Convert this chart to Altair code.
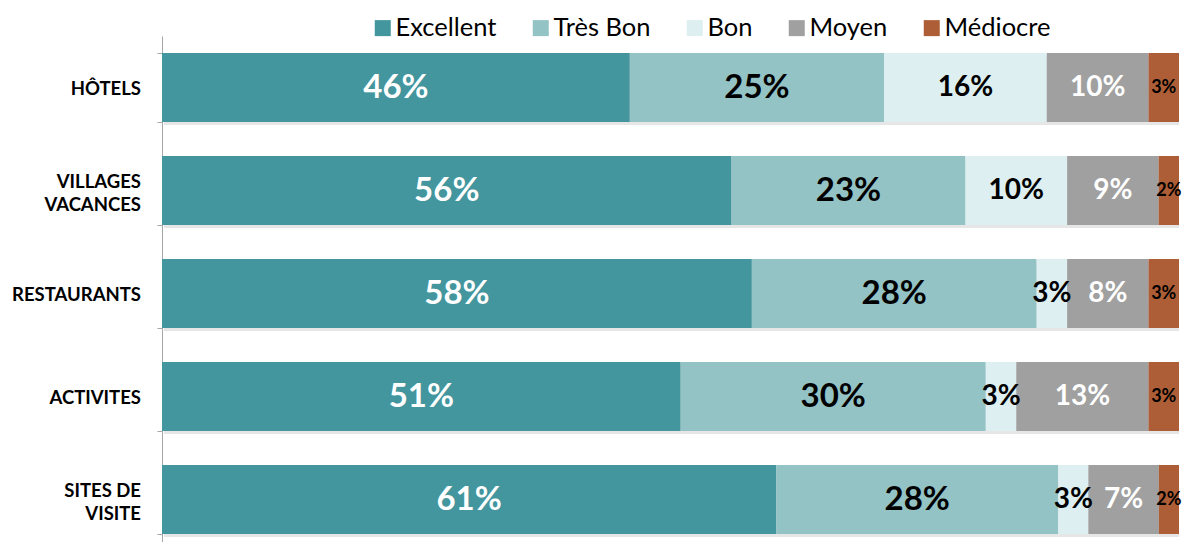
import altair as alt
import pandas as pd

categories = ["HÔTELS", "VILLAGES\nVACANCES", "RESTAURANTS", "ACTIVITES", "SITES DE\nVISITE"]
ratings = ["Excellent", "Très Bon", "Bon", "Moyen", "Médiocre"]
excellent = [46, 56, 58, 51, 61]
tres_bon = [25, 23, 28, 30, 28]
bon = [16, 10, 3, 3, 3]
moyen = [10, 9, 8, 13, 7]
mediocre = [3, 2, 3, 3, 2]
colors = ["#43959E", "#93C3C5", "#DDEFF0", "#A0A0A0", "#AE5E36"]

series = [excellent, tres_bon, bon, moyen, mediocre]
rows = []
for ci, cat in enumerate(categories):
    for ri, r in enumerate(ratings):
        rows.append({"cat": cat, "rating": r, "order": ri, "value": series[ri][ci]})
df = pd.DataFrame(rows)

FONT = "Lato"
LINE_H = 23

yscale = alt.Scale(domain=categories, range=[0, 515], paddingInner=0.33, paddingOuter=0.165)
xscale = alt.Scale(domain=[0, 1], nice=False)

base = (
    alt.Chart(df)
    .transform_stack(stack="value", groupby=["cat"],
                     sort=[{"field": "order", "order": "ascending"}],
                     as_=["v0", "v1"], offset="normalize")
    .transform_calculate(mid="(datum.v0 + datum.v1) / 2", label="datum.value + '%'")
)

shadow = (
    base.transform_filter(alt.datum.rating == "Excellent")
    .transform_calculate(s0="0", s1="1")
    .mark_bar(color="#9a9a9a", opacity=0.25, yOffset=3, xOffset=2)
    .encode(
        x=alt.X("s0:Q", scale=xscale, axis=None),
        x2="s1:Q",
        y=alt.Y("cat:N", scale=yscale, sort=categories),
    )
)

bars = base.mark_bar().encode(
    x=alt.X("v0:Q", axis=None, scale=xscale),
    x2="v1:Q",
    y=alt.Y(
        "cat:N",
        sort=categories,
        scale=yscale,
        title=None,
        axis=alt.Axis(
            labels=False,
            tickBand="extent",
            tickSize=5,
            tickColor="#A6A6A6",
            domainColor="#A6A6A6",
            ticks=True,
            grid=False,
        ),
    ),
    color=alt.Color(
        "rating:N",
        scale=alt.Scale(domain=ratings, range=colors),
        sort=ratings,
        legend=alt.Legend(
            title=None,
            orient="none",
            direction="horizontal",
            legendX=208,
            legendY=-21,
            symbolType="square",
            symbolSize=256,
            symbolStrokeWidth=0,
            symbolOpacity=1,
            labelFont=FONT,
            labelFontSize=25.5,
            labelColor="#000000",
            labelOffset=0,
            columnPadding=31,
            labelLimit=300,
        ),
    ),
)

def cat_labels(multi):
    test = "indexof(datum.cat, '\\n') >= 0" if multi else "indexof(datum.cat, '\\n') < 0"
    return (
        base.transform_filter(alt.datum.rating == "Excellent")
        .transform_filter(test)
        .transform_calculate(zero="0")
        .mark_text(font=FONT, fontWeight="bold", fontSize=18.5, color="#000000",
                   align="right", baseline="middle", dx=-21,
                   dy=(-LINE_H / 2 + 3) if multi else 1, lineBreak="\n", lineHeight=LINE_H)
        .encode(
            x=alt.X("zero:Q", scale=xscale),
            y=alt.Y("cat:N", sort=categories, scale=yscale),
            text="cat:N",
        )
    )

def text_layer(names, size, color):
    return (
        base.transform_filter(alt.FieldOneOfPredicate(field="rating", oneOf=names))
        .mark_text(font=FONT, fontWeight="bold", fontSize=size, color=color,
                   align="center", baseline="middle")
        .encode(
            x=alt.X("mid:Q", scale=xscale),
            y=alt.Y("cat:N", sort=categories, scale=yscale),
            text="label:N",
        )
    )

t_big_white = text_layer(["Excellent"], 33, "#FFFFFF")
t_big_black = text_layer(["Très Bon"], 33, "#000000")
t_mid_black = text_layer(["Bon"], 28, "#000000")
t_mid_white = text_layer(["Moyen"], 28, "#FFFFFF")
t_small = text_layer(["Médiocre"], 18, "#000000")

chart = (
    alt.layer(shadow, bars, t_big_white, t_big_black, t_mid_black, t_mid_white, t_small,
              cat_labels(False), cat_labels(True))
    .properties(
        width=1017,
        height=506,
        autosize=alt.AutoSizeParams(type="none"),
        padding={"left": 162, "top": 36, "right": 13, "bottom": 0},
        background="#FFFFFF",
    )
    .configure_view(stroke=None)
)

chart.save("out.html", embed_options={"renderer": "svg", "actions": False})
